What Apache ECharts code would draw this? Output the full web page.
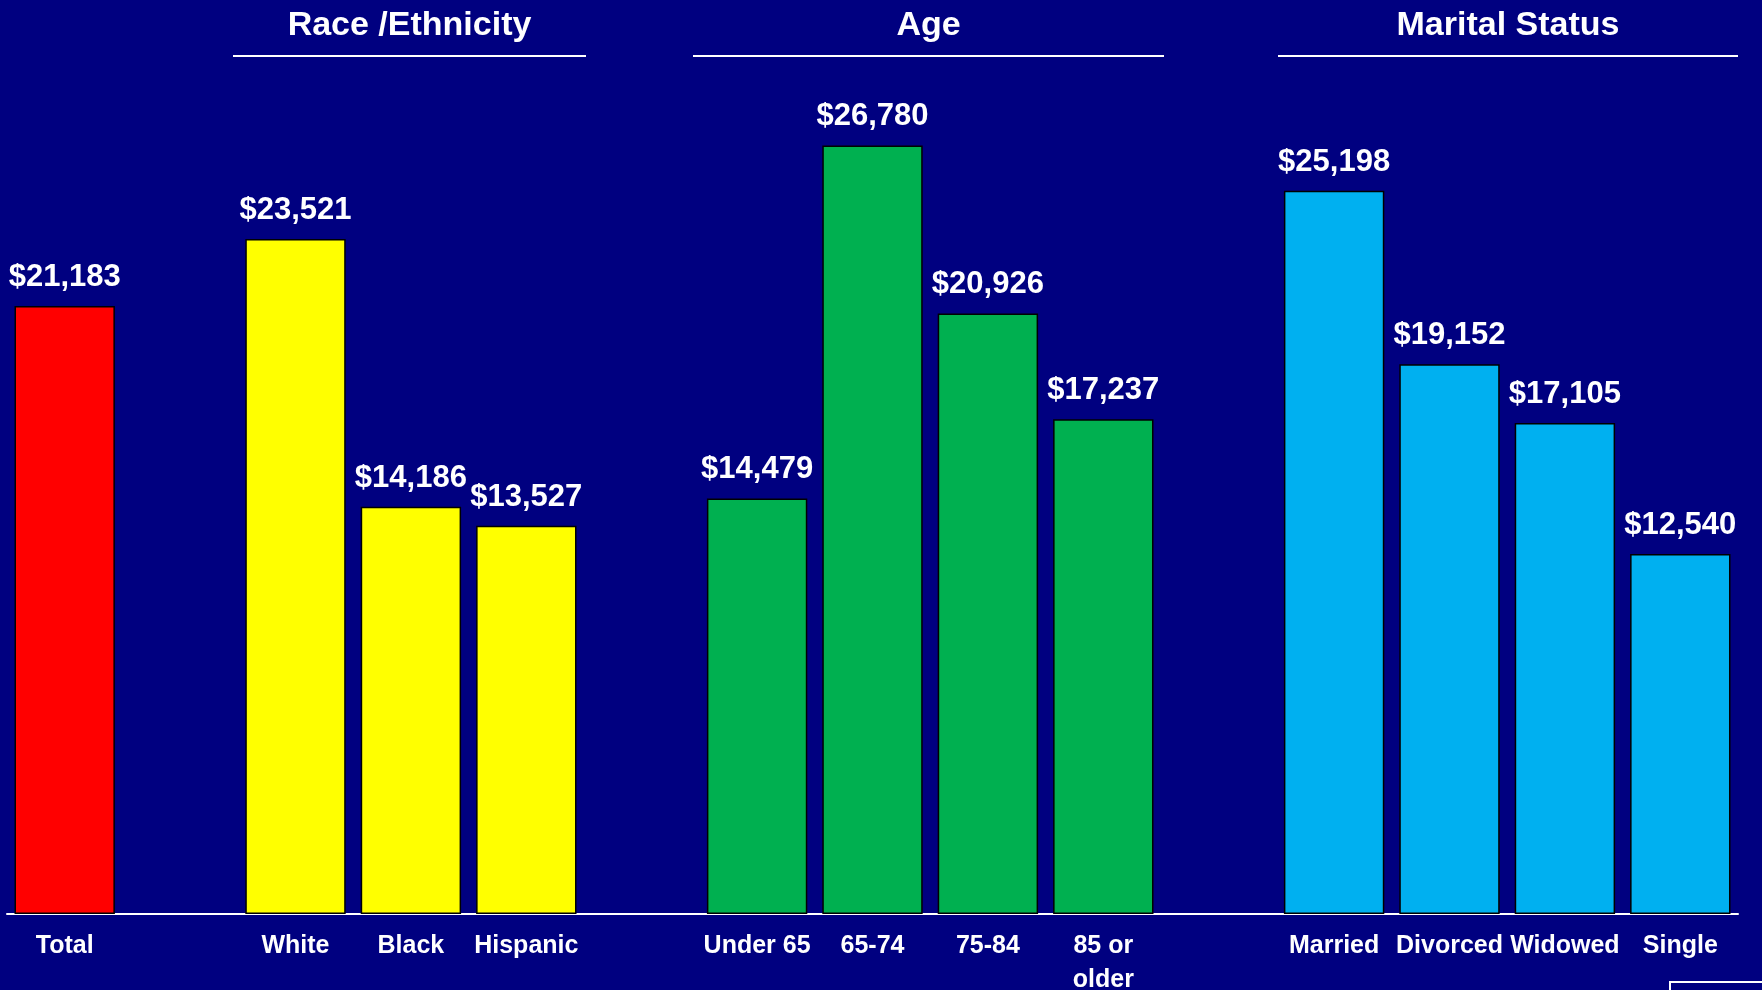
<!DOCTYPE html>
<html>
<head>
<meta charset="utf-8">
<script src="https://cdn.jsdelivr.net/npm/echarts@6/dist/echarts.min.js"></script>
<style>
  html, body { margin: 0; padding: 0; background: #000080; }
  #chart { width: 1762px; height: 990px; }
</style>
</head>
<body>
<div id="chart"></div>
<script>
// values
const totalCats = ['Total'];
const totalVals = [21183];
const raceCats = ['White', 'Black', 'Hispanic'];
const raceVals = [23521, 14186, 13527];
const ageCats = ['Under 65', '65-74', '75-84', '85 or\nolder'];
const ageVals = [14479, 26780, 20926, 17237];
const maritalCats = ['Married', 'Divorced', 'Widowed', 'Single'];
const maritalVals = [25198, 19152, 17105, 12540];

const groupTitles = ['Race /Ethnicity', 'Age', 'Marital Status'];
const groupColors = ['#FF0000', '#FFFF00', '#00B050', '#00B0F0'];

const FONT = '"Liberation Sans", Arial, sans-serif';

// one slot per bar, with an empty slot between groups
const groups = [
  [totalCats, totalVals],
  [raceCats, raceVals],
  [ageCats, ageVals],
  [maritalCats, maritalVals]
];
const cats = [];
const data = [];
groups.forEach((g, gi) => {
  if (gi > 0) {
    cats.push('gap' + gi);
    data.push(null);
  }
  g[0].forEach((c, i) => {
    cats.push(c);
    data.push({ value: g[1][i], itemStyle: { color: groupColors[gi] } });
  });
});

// header over each group with a rule under it (x range of the rule)
const headerRules = [[233, 586], [693, 1164], [1278, 1738]];
const graphics = [];
headerRules.forEach((r, i) => {
  graphics.push({
    type: 'text',
    x: (r[0] + r[1]) / 2,
    y: 26,
    style: {
      text: groupTitles[i],
      fill: '#fff',
      font: 'bold 34px ' + FONT,
      textAlign: 'center',
      textVerticalAlign: 'middle'
    }
  });
  graphics.push({
    type: 'line',
    shape: { x1: r[0], y1: 56, x2: r[1], y2: 56 },
    style: { stroke: '#fff', lineWidth: 2 }
  });
});
// the bit of a box at the bottom right corner
graphics.push({
  type: 'rect',
  shape: { x: 1670, y: 982, width: 120, height: 40 },
  style: { fill: null, stroke: '#fff', lineWidth: 2 }
});

const chart = echarts.init(document.getElementById('chart'));
chart.setOption({
  backgroundColor: '#000080',
  animation: false,
  // v6 shrinks the grid to fit labels unless told not to
  grid: { left: 7, right: 24, top: 53, bottom: 76, outerBoundsMode: 'none' },
  xAxis: {
    type: 'category',
    data: cats,
    axisTick: { show: false },
    axisLine: { lineStyle: { color: '#fff', width: 2 } },
    axisLabel: {
      interval: 0,
      color: '#fff',
      fontFamily: FONT,
      fontWeight: 'bold',
      fontSize: 25,
      lineHeight: 34,
      margin: 15,
      formatter: v => (v.indexOf('gap') === 0 ? '' : v)
    }
  },
  yAxis: {
    type: 'value',
    min: 0,
    max: 30000,
    show: false
  },
  series: [
    {
      type: 'bar',
      data: data,
      barCategoryGap: '13%',
      itemStyle: { borderColor: '#000', borderWidth: 1.5 },
      label: {
        show: true,
        position: 'top',
        distance: 13,
        color: '#fff',
        fontFamily: FONT,
        fontWeight: 'bold',
        fontSize: 31,
        formatter: p => '$' + p.value.toLocaleString('en-US')
      }
    }
  ],
  graphic: graphics
});
window.addEventListener('resize', () => chart.resize());
</script>
</body>
</html>
